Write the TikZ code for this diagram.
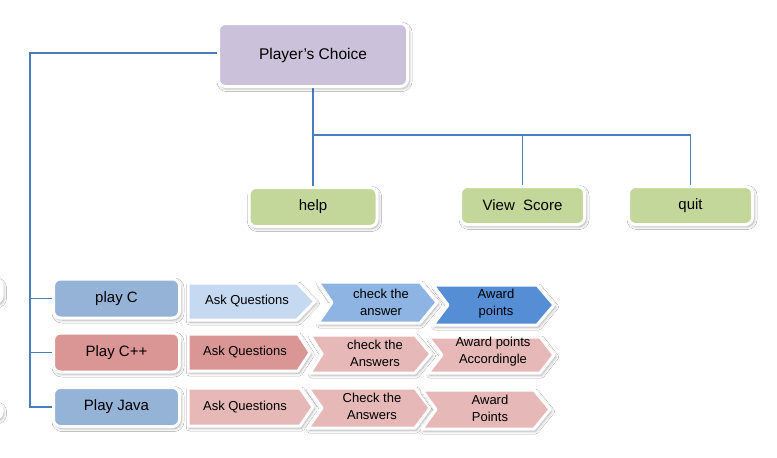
\documentclass[tikz,border=0pt]{standalone}
\usepackage{fontspec}
\setmainfont{Liberation Sans}
\usetikzlibrary{shadows.blur,backgrounds}
\definecolor{linec}{HTML}{4A7EBB}
\definecolor{purp}{HTML}{CCC1DA}
\definecolor{grn}{HTML}{C4D79B}
\definecolor{bluebox}{HTML}{95B3D7}
\definecolor{redbox}{HTML}{DA9694}
\definecolor{ltblue}{HTML}{C5D9F1}
\definecolor{midblue}{HTML}{8DB4E2}
\definecolor{dkblue}{HTML}{558ED5}
\definecolor{pink}{HTML}{E6B8B7}
\tikzset{
  shad/.style={blur shadow={shadow xshift=1.5pt, shadow yshift=-2pt, shadow opacity=35, shadow blur radius=3pt}},
  boxnode/.style={draw=white, line width=3pt, rounded corners=7pt, shad, inner sep=0pt,
     font=\fontsize{15}{18}\selectfont, text=black},
  chev/.style={draw=white, line width=3pt, line join=round, shad},
  ctext/.style={font=\fontsize{13}{17}\selectfont, align=center, inner sep=0pt, text=black},
  conn/.style={draw=linec, line width=1.1pt},
}
\newcommand\chv[7]{\path[chev, fill=#7] (#1,#5) -- (#3,#5) -- (#4,{(#5+#6)/2}) -- (#3,#6) -- (#1,#6) -- ({#1+#2},{(#5+#6)/2}) -- cycle;}
\begin{document}
\begin{tikzpicture}[x=1pt,y=-1pt]
\useasboundingbox (0,0) rectangle (777,458);
% cut-off shapes at the left edge
\begin{scope}
\clip (0,0) rectangle (777,458);
\node[boxnode, fill=white, minimum width=40pt, minimum height=24pt] (cutA) at (-18,291) {};
\node[boxnode, fill=white, minimum width=40pt, minimum height=16pt] (cutB) at (-18,411) {};
\end{scope}
% main boxes
\node[boxnode, fill=purp, minimum width=189pt, minimum height=63pt, font=\fontsize{15.5}{18}\selectfont] (pc) at (313,55) {Player’s Choice};
\node[boxnode, fill=grn, minimum width=128pt, minimum height=39pt] (help) at (313,207) {help};
\node[boxnode, fill=grn, minimum width=124pt, minimum height=38pt] (vs) at (522.5,205.5) {View~~Score};
\node[boxnode, fill=grn, minimum width=124pt, minimum height=38pt] (quit) at (690.5,205.5) {quit};
\node[boxnode, fill=bluebox, minimum width=126pt, minimum height=39pt] (playc) at (116.5,298.5) {play C};
\node[boxnode, fill=redbox, minimum width=126pt, minimum height=39pt] (playcpp) at (116.5,352.5) {Play C++};
\node[boxnode, fill=bluebox, minimum width=126pt, minimum height=39pt] (playjava) at (116.5,407) {Play Java};
% chevrons row 1
\chv{188}{0}{297}{315}{283}{320}{ltblue}
\chv{318}{14}{420}{437}{282}{323}{midblue}
\chv{433}{15}{537}{554}{285}{325}{dkblue}
% row 2
\chv{188}{0}{298}{310}{334}{371}{redbox}
\chv{310}{12}{415}{431}{335}{373}{pink}
\chv{428}{14}{540}{554}{337}{373}{pink}
% row 3
\chv{188}{0}{300}{313}{388}{426}{pink}
\chv{308}{14}{415}{430}{388}{428}{pink}
\chv{422}{14}{534}{550}{390}{429}{pink}
% chevron texts
\node[ctext] (aq1) at (247,301) {Ask Questions};
\node[ctext] (ck1) at (381,302) {check the\\answer};
\node[ctext] (aw1) at (496,304) {Award\\points};
\node[ctext] (aq2) at (245,352) {Ask Questions};
\node[ctext] (ck2) at (375,353) {check the\\Answers};
\node[ctext] (aw2) at (493,352) {Award points\\Accordingle};
\node[ctext] (aq3) at (245,407) {Ask Questions};
\node[ctext] (ck3) at (372,406) {Check the\\Answers};
\node[ctext] (aw3) at (490,408) {Award\\Points};
% connectors
\coordinate (hb) at (313,135);
\coordinate (lt) at (30,53);
\begin{scope}[on background layer]
\fill[white] (0,0) rectangle (777,458);
\draw[conn] (pc.south) -- (hb) -- (help.north);
\draw[conn] (hb) -| (vs.north);
\draw[conn] (hb) -| (quit.north);
\draw[conn] (pc.west |- lt) -- (lt) |- (playc.west);
\draw[conn] (lt) |- (playcpp.west);
\draw[conn] (lt) |- (playjava.west);
\end{scope}
\end{tikzpicture}
\end{document}
